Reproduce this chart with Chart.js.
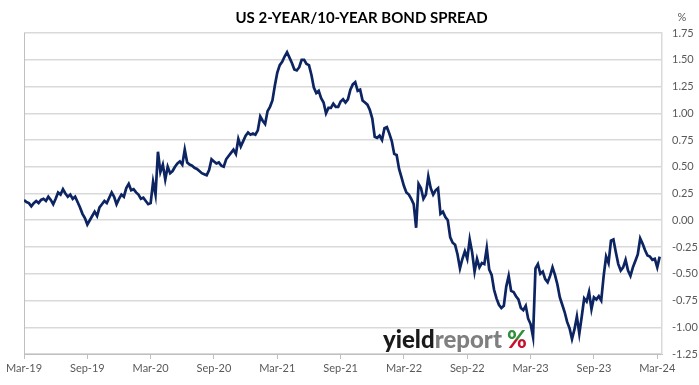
<!DOCTYPE html>
<html>
<head>
<meta charset="utf-8">
<script src="https://cdn.jsdelivr.net/npm/chart.js@4.4.1/dist/chart.umd.min.js"></script>
<style>
  html, body { margin: 0; padding: 0; background: #fff; }
  #wrap { width: 699px; height: 385px; }
</style>
</head>
<body>
<div id="wrap"><canvas id="spreadChart" width="699" height="385"></canvas></div>
<script>
// x tick labels, one every 6 months starting Mar-19
const tickLabels = ["Mar-19", "Sep-19", "Mar-20", "Sep-20", "Mar-21", "Sep-21",
  "Mar-22", "Sep-22", "Mar-23", "Sep-23", "Mar-24"];

// weekly 10y minus 2y spread (%), split by year from March
const spread2019 = [0.19, 0.17, 0.16, 0.13, 0.16, 0.18, 0.16, 0.19, 0.20, 0.18,
  0.22, 0.19, 0.15, 0.20, 0.26, 0.24, 0.29, 0.25, 0.22, 0.24,
  0.20, 0.22, 0.17, 0.12, 0.06, 0.02, -0.04, 0.00, 0.04, 0.08,
  0.04, 0.12, 0.15, 0.18, 0.16, 0.21, 0.26, 0.22, 0.15, 0.20,
  0.24, 0.22, 0.30, 0.34, 0.28, 0.29, 0.26, 0.24, 0.20, 0.21,
  0.18, 0.15];
const spread2020 = [0.16, 0.36, 0.24, 0.64, 0.45, 0.52, 0.38, 0.50, 0.44, 0.46,
  0.50, 0.53, 0.55, 0.52, 0.66, 0.54, 0.52, 0.51, 0.49, 0.48,
  0.46, 0.44, 0.43, 0.42, 0.47, 0.57, 0.55, 0.53, 0.54, 0.51,
  0.50, 0.57, 0.60, 0.63, 0.66, 0.62, 0.76, 0.69, 0.74, 0.79,
  0.82, 0.80, 0.81, 0.80, 0.84, 0.97, 0.93, 0.90, 1.02, 1.06,
  1.12, 1.26];
const spread2021 = [1.38, 1.45, 1.48, 1.53, 1.57, 1.52, 1.47, 1.41, 1.40, 1.43,
  1.50, 1.50, 1.46, 1.45, 1.36, 1.24, 1.19, 1.21, 1.14, 1.10,
  1.00, 1.05, 1.05, 1.09, 1.06, 1.06, 1.11, 1.13, 1.10, 1.13,
  1.22, 1.27, 1.29, 1.21, 1.22, 1.12, 1.10, 1.08, 1.03, 0.95,
  0.78, 0.77, 0.79, 0.75, 0.86, 0.87, 0.81, 0.74, 0.62, 0.61,
  0.48, 0.40];
const spread2022 = [0.32, 0.26, 0.24, 0.20, 0.15, -0.07, 0.34, 0.30, 0.20, 0.24,
  0.41, 0.30, 0.24, 0.28, 0.30, 0.06, 0.08, 0.03, 0.00, -0.16,
  -0.21, -0.23, -0.32, -0.45, -0.36, -0.29, -0.36, -0.18, -0.30, -0.48,
  -0.36, -0.44, -0.40, -0.41, -0.26, -0.46, -0.51, -0.65, -0.73, -0.79,
  -0.82, -0.80, -0.62, -0.52, -0.66, -0.67, -0.71, -0.74, -0.82, -0.84,
  -0.80, -0.92];
const spread2023 = [-0.97, -1.09, -0.45, -0.41, -0.50, -0.48, -0.55, -0.58, -0.52, -0.44,
  -0.51, -0.60, -0.72, -0.79, -0.86, -0.95, -1.01, -1.11, -1.02, -0.90,
  -1.06, -0.90, -0.73, -0.76, -0.67, -0.83, -0.72, -0.74, -0.71, -0.75,
  -0.52, -0.34, -0.40, -0.19, -0.18, -0.30, -0.41, -0.47, -0.44, -0.37,
  -0.47, -0.52, -0.44, -0.38, -0.32, -0.17, -0.22, -0.28, -0.33, -0.34,
  -0.37, -0.36, -0.44, -0.34];

const spread = [...spread2019, ...spread2020, ...spread2021, ...spread2022, ...spread2023];
// x in months since Mar-19, weekly steps (260 weeks to Mar-24)
const points = spread.map((v, i) => ({ x: (i * 60) / 260, y: v }));

const axisFont = { family: "Lato, 'Open Sans', sans-serif", size: 11 };

// "%" unit label and the yieldreport logo
const extras = {
  id: "extras",
  afterDatasetsDraw(chart) {
    const { ctx } = chart;
    ctx.save();
    ctx.font = "11px Lato, sans-serif";
    ctx.fillStyle = "#595959";
    ctx.textAlign = "center";
    ctx.textBaseline = "middle";
    ctx.fillText("%", 682, 17);

    ctx.font = "900 24px Lato, sans-serif";
    ctx.textAlign = "left";
    ctx.textBaseline = "alphabetic";
    let x = 383;
    const y = 348;
    ctx.fillStyle = "#1a1a1a";
    ctx.fillText("yield", x, y);
    x += ctx.measureText("yield").width;
    ctx.fillStyle = "#7f7f7f";
    ctx.fillText("report", x, y);
    x += ctx.measureText("report").width + 5;
    const g = ctx.createLinearGradient(0, y - 17, 0, y);
    g.addColorStop(0, "#2f8f3a");
    g.addColorStop(0.45, "#2f8f3a");
    g.addColorStop(0.55, "#c8102e");
    g.addColorStop(1, "#c8102e");
    ctx.fillStyle = g;
    ctx.fillText("%", x, y);
    ctx.restore();
  },
};

new Chart(document.getElementById("spreadChart"), {
  type: "line",
  data: {
    datasets: [
      {
        label: "US 2-year/10-year spread",
        data: points,
        borderColor: "#0c2461",
        borderWidth: 2.7,
        pointRadius: 0,
        tension: 0,
        fill: false,
      },
    ],
  },
  options: {
    responsive: false,
    animation: false,
    devicePixelRatio: 1,
    layout: { padding: { left: 24, right: 0, top: 0, bottom: 0 } },
    plugins: {
      legend: { display: false },
      tooltip: { enabled: false },
      title: {
        display: true,
        text: "US 2-YEAR/10-YEAR BOND SPREAD",
        color: "#000",
        font: { family: "Lato, sans-serif", size: 15, weight: "bold", lineHeight: 1.2 },
        padding: { top: 9, bottom: 6 },
      },
    },
    scales: {
      x: {
        type: "linear",
        min: 0,
        max: 60.45,
        afterBuildTicks: (scale) => {
          scale.ticks = tickLabels.map((_, k) => ({ value: k * 6 }));
        },
        afterFit: (scale) => { scale.height = 31; },
        ticks: {
          autoSkip: false,
          maxRotation: 0,
          color: "#595959",
          font: axisFont,
          padding: 3,
          callback: (v) => tickLabels[Math.round(v / 6)],
        },
        grid: {
          drawOnChartArea: false,
          drawTicks: true,
          tickLength: 5,
          color: "#bfbfbf",
        },
        border: { color: "#bfbfbf", width: 1 },
      },
      y: {
        position: "right",
        min: -1.25,
        max: 1.75,
        afterFit: (scale) => { scale.width = 37; },
        ticks: {
          stepSize: 0.25,
          color: "#595959",
          font: axisFont,
          padding: 10,
          callback: (v) => v.toFixed(2),
        },
        grid: { color: "#d9d9d9", lineWidth: 1.5, drawTicks: false },
        border: { color: "#d9d9d9", width: 1.5 },
      },
      yLeft: {
        position: "left",
        min: -1.25,
        max: 1.75,
        ticks: { display: false },
        grid: { display: false },
        border: { color: "#bfbfbf", width: 1 },
        afterFit: (scale) => { scale.width = 0; },
      },
    },
  },
  plugins: [extras],
});
</script>
</body>
</html>
